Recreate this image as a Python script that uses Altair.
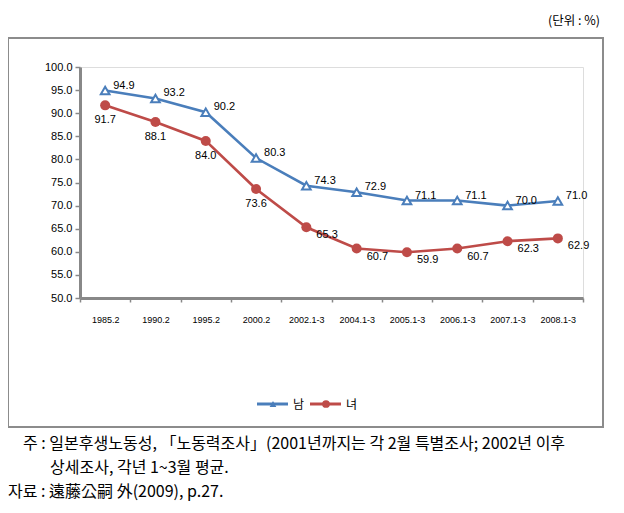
import altair as alt
import pandas as pd

categories = ["1985.2", "1990.2", "1995.2", "2000.2", "2002.1-3",
              "2004.1-3", "2005.1-3", "2006.1-3", "2007.1-3", "2008.1-3"]
male = [94.9, 93.2, 90.2, 80.3, 74.3, 72.9, 71.1, 71.1, 70.0, 71.0]
female = [91.7, 88.1, 84.0, 73.6, 65.3, 60.7, 59.9, 60.7, 62.3, 62.9]
series = ["남", "녀"]
colors = ["#4A7EBB", "#BE4B48"]
unit_text = "(단위 : %)"
note_lines = [
    "주 : 일본후생노동성, 「노동력조사」(2001년까지는 각 2월 특별조사; 2002년 이후",
    "상세조사, 각년 1~3월 평균.",
    "자료 : 遠藤公嗣 外(2009), p.27.",
]
y_ticks = [50, 55, 60, 65, 70, 75, 80, 85, 90, 95, 100]

rows = []
for c, v in zip(categories, male):
    rows.append({"cat": c, "value": v, "series": series[0]})
for c, v in zip(categories, female):
    rows.append({"cat": c, "value": v, "series": series[1]})
df = pd.DataFrame(rows)

W, H = 503, 231
LBL = "Liberation Sans"
KR = "Noto Sans CJK KR"

x_enc = alt.X("cat:N", sort=categories, bandPosition=0.5,
              scale=alt.Scale(type="band", paddingInner=0, paddingOuter=0),
              axis=alt.Axis(title=None, labelAngle=0, labelFont=LBL, labelFontSize=9,
                            labelColor="#000", domainColor="#888888", domainWidth=3,
                            tickColor="#888888", tickWidth=1.5, tickSize=4, tickBand="extent",
                            labelPadding=13, grid=False))
y_enc = alt.Y("value:Q", scale=alt.Scale(domain=[50, 100], nice=False, zero=False),
              axis=alt.Axis(title=None, values=y_ticks, format=".1f", labelFont=LBL,
                            labelFontSize=11, labelColor="#000", domainColor="#888888",
                            domainWidth=3, tickColor="#888888", tickWidth=1.5, tickSize=5,
                            labelPadding=3, grid=False))
color_enc = alt.Color("series:N", scale=alt.Scale(domain=series, range=colors), legend=None)

base = alt.Chart(df)
lines = base.mark_line(strokeWidth=2.6).encode(x=x_enc, y=y_enc, color=color_enc,
                                                 detail="series:N")
tri = base.transform_filter(alt.datum.series == series[0]).mark_point(
    shape="triangle-up", size=75, filled=True, fill="white", stroke=colors[0],
    strokeWidth=2, opacity=1).encode(x=x_enc, y=y_enc)
circ = base.transform_filter(alt.datum.series == series[1]).mark_point(
    shape="circle", size=100, filled=True, color=colors[1], opacity=1).encode(x=x_enc, y=y_enc)

txt = dict(font=LBL, fontSize=11, color="#000")
lab_m = base.transform_filter(alt.datum.series == series[0]).mark_text(
    align="left", baseline="middle", dx=8, dy=-5, **txt).encode(
    x=x_enc, y=y_enc, text=alt.Text("value:Q", format=".1f"))
annual = [c for c in categories if c.endswith(".2")]
lab_f1 = base.transform_filter(alt.datum.series == series[1]).transform_filter(
    alt.FieldOneOfPredicate(field="cat", oneOf=annual)).mark_text(
    align="center", baseline="middle", dy=15, **txt).encode(
    x=x_enc, y=y_enc, text=alt.Text("value:Q", format=".1f"))
lab_f2 = base.transform_filter(alt.datum.series == series[1]).transform_filter(
    ~alt.FieldOneOfPredicate(field="cat", oneOf=annual)).mark_text(
    align="left", baseline="middle", dx=10, dy=8, **txt).encode(
    x=x_enc, y=y_enc, text=alt.Text("value:Q", format=".1f"))

# outer frame
one = alt.Chart(pd.DataFrame({"k": [0]}))
frame = one.mark_rect(fill=None, stroke="#8C8C8C", strokeWidth=2).encode(
    x=alt.value(-72), x2=alt.value(523), y=alt.value(-29), y2=alt.value(360))

# legend
legend_layers = []
for i, (name, col) in enumerate(zip(series, colors)):
    x0 = 177 + i * 53
    ld = alt.Chart(pd.DataFrame({"series": [name]}))
    legend_layers.append(ld.mark_rule(color=col, strokeWidth=3).encode(
        x=alt.value(x0), x2=alt.value(x0 + 31), y=alt.value(337)))
    legend_layers.append(ld.mark_point(shape="triangle-up" if i == 0 else "circle",
                                       size=45 if i == 0 else 60, filled=True, color=col,
                                       opacity=1).encode(
        x=alt.value(x0 + 16), y=alt.value(337)))
    legend_layers.append(ld.mark_text(align="left", baseline="middle", font=KR, fontSize=12,
                                      color="#000").encode(
        x=alt.value(x0 + 36), y=alt.value(338), text="series:N"))

# texts
unit = one.mark_text(align="right", baseline="middle", font=KR, fontSize=12.5, color="#000").encode(
    x=alt.value(520), y=alt.value(-46), text=alt.value(unit_text))
note = dict(align="left", baseline="middle", font=KR, fontSize=16, color="#000")
n1 = one.mark_text(**note).encode(
    x=alt.value(-57), y=alt.value(377), text=alt.value(note_lines[0]))
n2 = one.mark_text(**note).encode(
    x=alt.value(-30), y=alt.value(401), text=alt.value(note_lines[1]))
n3 = one.mark_text(**note).encode(
    x=alt.value(-72), y=alt.value(425), text=alt.value(note_lines[2]))

chart = alt.layer(frame, lines, tri, circ, lab_m, lab_f1, lab_f2, *legend_layers,
                  unit, n1, n2, n3).properties(
    width=W, height=H,
    autosize=alt.AutoSizeParams(type="none"),
    padding={"left": 72, "top": 59, "right": 33, "bottom": 207},
).configure_view(stroke=None).configure(background="white")

chart.save("out.html", embed_options={"renderer": "svg", "actions": False})
